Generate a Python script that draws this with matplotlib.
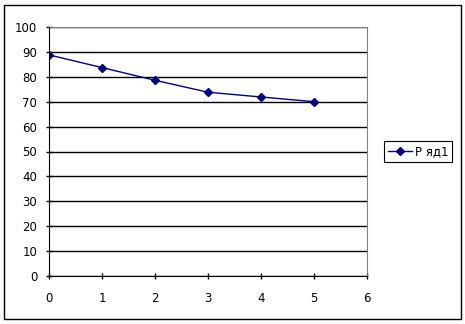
import matplotlib
matplotlib.use('Agg')
import matplotlib.pyplot as plt
from matplotlib.patches import Rectangle

x = [0, 1, 2, 3, 4, 5]
vals = [88.8, 83.7, 78.6, 73.8, 71.9, 70.0]
label = 'Р яд1'

plt.rcParams['font.family'] = ['DejaVu Sans']
plt.rcParams['font.size'] = 8.5

fig = plt.figure(figsize=(4.65, 3.24), dpi=100)
W, H = 465, 324
ax = fig.add_axes([49 / W, 48 / H, 318 / W, 249 / H])

# outer chart border
fig.patches.append(Rectangle((4 / W, 5 / H), 457 / W, 314 / H, transform=fig.transFigure,
                             fill=False, edgecolor='black', linewidth=1.0))

ax.plot(x, vals, color='#000080', linewidth=1.0, marker='D', markersize=4.5,
        label=label)
ax.set_xlim(0, 6)
ax.set_ylim(0, 100)
ax.set_xticks(range(0, 7))
ax.set_yticks(range(0, 101, 10))
ax.yaxis.grid(True, color='black', linewidth=1.0)
ax.set_axisbelow(True)
ax.spines['top'].set_color('#808080')
ax.spines['right'].set_color('#808080')
ax.tick_params(axis='x', direction='inout', length=5, width=1, pad=9, labelsize=8.5)
ax.tick_params(axis='y', direction='inout', length=5, width=1, pad=6, labelsize=8.5)

leg = ax.legend(loc='center left', bbox_to_anchor=(1.035, 0.5), frameon=True,
                fancybox=False, edgecolor='black', framealpha=1,
                handlelength=2.1, borderpad=0.3, handletextpad=0.2, fontsize=8.5)
leg.get_frame().set_linewidth(0.8)

fig.savefig('out.png', dpi=100)
